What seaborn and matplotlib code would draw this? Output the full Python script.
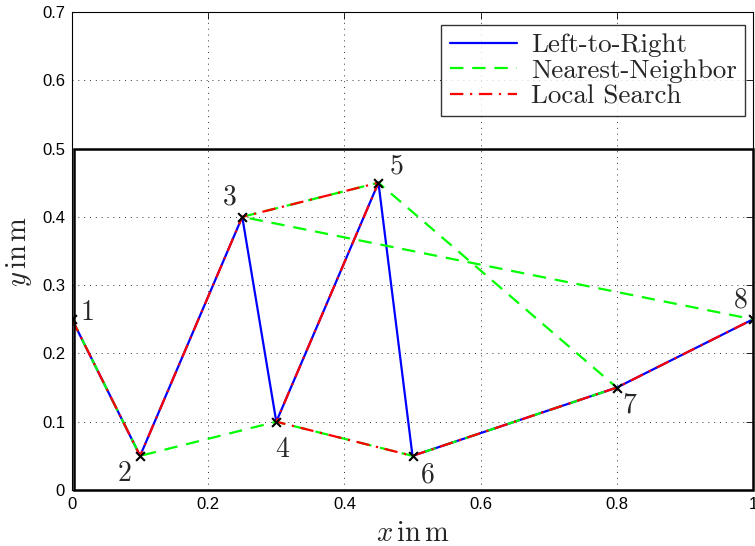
import matplotlib
matplotlib.use("Agg")
import matplotlib.pyplot as plt
import seaborn as sns
import pandas as pd
from matplotlib.patches import Rectangle

# Data
node_ids = [1, 2, 3, 4, 5, 6, 7, 8]
node_x = [0.0, 0.1, 0.25, 0.3, 0.45, 0.5, 0.8, 1.0]
node_y = [0.25, 0.05, 0.4, 0.1, 0.45, 0.05, 0.15, 0.25]
order_left_to_right = [1, 2, 3, 4, 5, 6, 7, 8]
order_nearest_neighbor = [1, 2, 4, 6, 7, 5, 3, 8]
order_local_search = [1, 2, 3, 5, 4, 6, 7, 8]
series_names = ["Left-to-Right", "Nearest-Neighbor", "Local Search"]
x_ticks = [0, 0.2, 0.4, 0.6, 0.8, 1]
x_tick_labels = ["0", "0.2", "0.4", "0.6", "0.8", "1"]
y_ticks = [0, 0.1, 0.2, 0.3, 0.4, 0.5, 0.6, 0.7]
y_tick_labels = ["0", "0.1", "0.2", "0.3", "0.4", "0.5", "0.6", "0.7"]

sns.set_style("white")
plt.rcParams["mathtext.fontset"] = "cm"
plt.rcParams["font.family"] = ["Liberation Sans", "DejaVu Sans"]

fig = plt.figure(figsize=(7.55, 5.46), dpi=100)
ax = fig.add_axes([72 / 755, 56 / 546, 681 / 755, 478 / 546])

orders = [order_left_to_right, order_nearest_neighbor, order_local_search]
colors = ["#0000ff", "#00ff00", "#ff0000"]
styles = ["-", (0, (6, 4)), (0, (6, 3, 1, 3))]
for name, order, c, ls in zip(series_names, orders, colors, styles):
    df = pd.DataFrame({
        "x": [node_x[i - 1] for i in order],
        "y": [node_y[i - 1] for i in order],
        "step": range(len(order)),
    })
    sns.lineplot(data=df, x="x", y="y", sort=False, estimator=None,
                 color=c, linestyle=ls, linewidth=1.6, label=name, ax=ax)

ax.scatter(node_x, node_y, marker="x", color="black", s=40, linewidths=1.5, zorder=5)

offsets = {1: (11, 5), 2: (-11, -13), 3: (-9, 14), 4: (4, -20),
           5: (13, 12), 6: (11, -14), 7: (9, -13), 8: (-9, 14)}
for nid, xv, yv in zip(node_ids, node_x, node_y):
    ax.annotate(str(nid), (xv, yv), xytext=offsets[nid], textcoords="offset points",
                ha="center", va="center", fontsize=20, family="cmr10")

ax.add_patch(Rectangle((0.003, 0), 0.997, 0.5, fill=False, edgecolor="black",
                       linewidth=1.8, zorder=4, clip_on=False))

ax.set_xlim(0, 1)
ax.set_ylim(0, 0.7)
ax.set_xticks(x_ticks)
ax.set_xticklabels(x_tick_labels)
ax.set_yticks(y_ticks)
ax.set_yticklabels(y_tick_labels)
ax.tick_params(direction="in", length=5, width=0.6, top=True, right=True,
               labelsize=12, pad=5, colors="black")
ax.grid(True, linestyle=(0, (1, 5)), color="black", linewidth=0.7, alpha=0.8)
for s in ax.spines.values():
    s.set_visible(True)
    s.set_linewidth(0.8)
    s.set_color("black")

ax.set_xlabel(r"$x\,\mathrm{in}\,\mathrm{m}$", fontsize=20.5)
ax.set_ylabel(r"$y\,\mathrm{in}\,\mathrm{m}$", fontsize=20.5)
ax.xaxis.set_label_coords(0.5, -0.064)
ax.yaxis.set_label_coords(-0.056, 0.5)

leg = ax.legend(loc="upper right", bbox_to_anchor=(0.988, 0.972), prop={"family": "cmr10", "size": 19.5},
                frameon=True, fancybox=False, handlelength=2.5, borderpad=0.3,
                labelspacing=0.05, handletextpad=0.5, borderaxespad=0)
leg.get_frame().set_edgecolor("black")
leg.get_frame().set_linewidth(1.0)

fig.savefig("out.png", dpi=100)
